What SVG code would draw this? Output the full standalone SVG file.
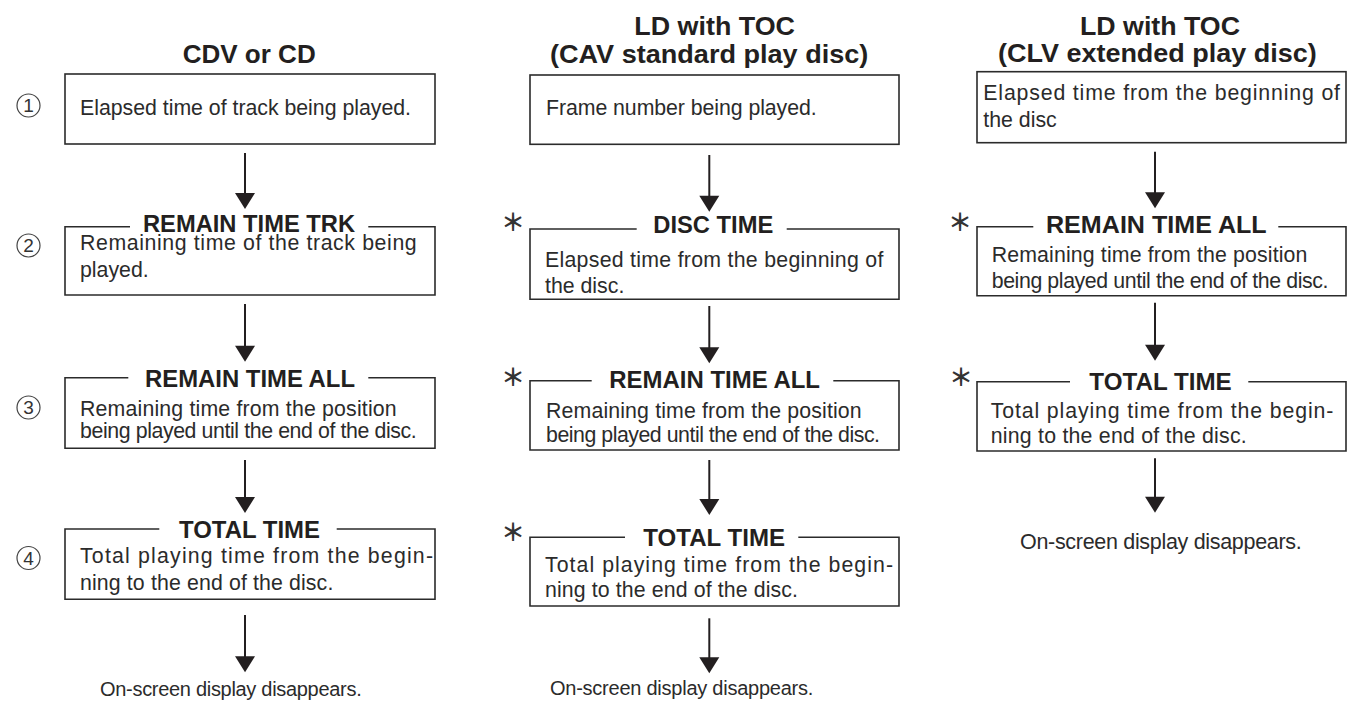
<svg xmlns="http://www.w3.org/2000/svg" width="1351" height="710" viewBox="0 0 1351 710">
<style>
.hd{font-family:"Liberation Sans",Arial,sans-serif;font-weight:bold;font-size:25px;fill:#231f20}
.tt{font-family:"Liberation Sans",Arial,sans-serif;font-weight:bold;font-size:23.5px;fill:#231f20}
.bd{font-family:"Liberation Sans",Arial,sans-serif;font-size:21.3px;fill:#2b2b2b}
.ft{font-family:"Liberation Sans",Arial,sans-serif;font-size:20px;fill:#2b2b2b}
.bx{fill:none;stroke:#2b2b2b;stroke-width:1.6}
.ar{stroke:#231f20;stroke-width:2;fill:none;marker-end:url(#ah)}
.cn{fill:none;stroke:#444;stroke-width:1.2}
.cd{font-family:"Liberation Sans",Arial,sans-serif;font-size:19px;fill:#333;text-anchor:middle}
.as{font-family:"Noto Sans CJK JP","DejaVu Sans",sans-serif;font-size:24px;font-weight:bold;fill:#333;text-anchor:middle}
</style>
<defs>
<marker id="ah" markerUnits="userSpaceOnUse" markerWidth="16" markerHeight="20" refX="6" refY="10" orient="auto" overflow="visible">
<path d="M0,0 L16,10 L0,20 Z" fill="#231f20"/>
</marker>
</defs>
<rect width="1351" height="710" fill="#fff"/>

<g id="headers">
<text class="hd" x="182.7" y="63" textLength="133" lengthAdjust="spacingAndGlyphs">CDV or CD</text>
<text class="hd" x="634.3" y="35" textLength="160.7" lengthAdjust="spacingAndGlyphs">LD with TOC</text>
<text class="hd" x="550" y="62.7" textLength="318.3" lengthAdjust="spacingAndGlyphs">(CAV standard play disc)</text>
<text class="hd" x="1080" y="35" textLength="160" lengthAdjust="spacingAndGlyphs">LD with TOC</text>
<text class="hd" x="998" y="62" textLength="318.7" lengthAdjust="spacingAndGlyphs">(CLV extended play disc)</text>
</g>

<g id="step-numbers">
<circle class="cn" cx="28.5" cy="105.5" r="11.5"/><text class="cd" x="28.5" y="112.3">1</text>
<circle class="cn" cx="28.5" cy="245.5" r="11.5"/><text class="cd" x="28.5" y="252.3">2</text>
<circle class="cn" cx="28.5" cy="407.5" r="11.5"/><text class="cd" x="28.5" y="414.3">3</text>
<circle class="cn" cx="28.5" cy="558" r="11.5"/><text class="cd" x="28.5" y="564.8">4</text>
</g>

<g id="asterisks">
<text class="as" x="513" y="230.5">＊</text>
<text class="as" x="513" y="385.5">＊</text>
<text class="as" x="513" y="540.5">＊</text>
<text class="as" x="960" y="230.5">＊</text>
<text class="as" x="961" y="385.5">＊</text>
</g>

<!-- Column 1 -->
<g id="c1-n1">
<rect class="bx" x="65" y="74" width="370" height="70"/>
<text class="bd" x="80" y="115" textLength="331">Elapsed time of track being played.</text>
</g>
<g id="c1-n2">
<path class="bx" d="M130,226.7 H65 V295 H435 V226.7 H368.3"/>
<text class="tt" x="143" y="231.5" textLength="212" lengthAdjust="spacingAndGlyphs">REMAIN TIME TRK</text>
<text class="bd" x="80" y="249.5" textLength="336.7">Remaining time of the track being</text>
<text class="bd" x="80" y="276.7">played.</text>
</g>
<g id="c1-n3">
<path class="bx" d="M128.3,377.7 H65 V448.3 H435 V377.7 H368.3"/>
<text class="tt" x="145" y="387" textLength="210" lengthAdjust="spacingAndGlyphs">REMAIN TIME ALL</text>
<text class="bd" x="80" y="415.7" textLength="316.7">Remaining time from the position</text>
<text class="bd" x="80" y="438.3" textLength="336.7">being played until the end of the disc.</text>
</g>
<g id="c1-n4">
<path class="bx" d="M159.3,529 H65 V599.3 H435 V529 H336.7"/>
<text class="tt" x="179" y="538" textLength="141" lengthAdjust="spacingAndGlyphs">TOTAL TIME</text>
<text class="bd" x="80" y="563" textLength="353">Total playing time from the begin-</text>
<text class="bd" x="80" y="590" textLength="253.3">ning to the end of the disc.</text>
</g>
<g id="c1-end">
<text class="ft" x="100" y="696" textLength="261.7">On-screen display disappears.</text>
</g>

<!-- Column 2 -->
<g id="c2-n1">
<rect class="bx" x="530" y="75" width="369" height="69.3"/>
<text class="bd" x="546" y="115" textLength="270.7">Frame number being played.</text>
</g>
<g id="c2-n2">
<path class="bx" d="M636.7,229 H530 V299.3 H899 V229 H786.7"/>
<text class="tt" x="653.3" y="233" textLength="120" lengthAdjust="spacingAndGlyphs">DISC TIME</text>
<text class="bd" x="545" y="266.7" textLength="338.3">Elapsed time from the beginning of</text>
<text class="bd" x="545" y="293.3">the disc.</text>
</g>
<g id="c2-n3">
<path class="bx" d="M591.7,380.7 H530 V450 H899 V380.7 H833.3"/>
<text class="tt" x="609.3" y="388.3" textLength="210.7" lengthAdjust="spacingAndGlyphs">REMAIN TIME ALL</text>
<text class="bd" x="546" y="418.3" textLength="315.7">Remaining time from the position</text>
<text class="bd" x="546" y="441.7" textLength="334">being played until the end of the disc.</text>
</g>
<g id="c2-n4">
<path class="bx" d="M625,537.3 H530 V606 H899 V537.3 H798.3"/>
<text class="tt" x="643.3" y="546" textLength="141.7" lengthAdjust="spacingAndGlyphs">TOTAL TIME</text>
<text class="bd" x="545" y="571.7" textLength="348">Total playing time from the begin-</text>
<text class="bd" x="545" y="597.3" textLength="253">ning to the end of the disc.</text>
</g>
<g id="c2-end">
<text class="ft" x="550" y="695" textLength="263.3">On-screen display disappears.</text>
</g>

<!-- Column 3 -->
<g id="c3-n1">
<rect class="bx" x="977" y="71.7" width="369" height="71"/>
<text class="bd" x="983.3" y="100" textLength="356.7">Elapsed time from the beginning of</text>
<text class="bd" x="983.3" y="126.7">the disc</text>
</g>
<g id="c3-n2">
<path class="bx" d="M1033.3,226.7 H977 V295.7 H1346 V226.7 H1278.3"/>
<text class="tt" x="1046" y="233" textLength="220.7" lengthAdjust="spacingAndGlyphs">REMAIN TIME ALL</text>
<text class="bd" x="991.7" y="261.7" textLength="315.7">Remaining time from the position</text>
<text class="bd" x="991.7" y="288.3" textLength="336.7">being played until the end of the disc.</text>
</g>
<g id="c3-n3">
<path class="bx" d="M1070,381.7 H977 V451 H1346 V381.7 H1248.3"/>
<text class="tt" x="1089.3" y="390" textLength="142.4" lengthAdjust="spacingAndGlyphs">TOTAL TIME</text>
<text class="bd" x="990.7" y="418.3" textLength="342.7">Total playing time from the begin-</text>
<text class="bd" x="990.7" y="443.3" textLength="256">ning to the end of the disc.</text>
</g>
<g id="c3-end">
<text class="ft" style="font-size:21.5px" x="1020" y="549.3" textLength="281.7">On-screen display disappears.</text>
</g>

<g id="connectors">
<line class="ar" x1="245" y1="153" x2="245" y2="199"/>
<line class="ar" x1="245" y1="304" x2="245" y2="351.7"/>
<line class="ar" x1="245" y1="460" x2="245" y2="503"/>
<line class="ar" x1="245" y1="615" x2="245" y2="662.3"/>
<line class="ar" x1="709.3" y1="155" x2="709.3" y2="201.7"/>
<line class="ar" x1="709.3" y1="306" x2="709.3" y2="353.3"/>
<line class="ar" x1="709.3" y1="460" x2="709.3" y2="505"/>
<line class="ar" x1="709.3" y1="618.3" x2="709.3" y2="663.3"/>
<line class="ar" x1="1155" y1="151.7" x2="1155" y2="198.3"/>
<line class="ar" x1="1155" y1="302.7" x2="1155" y2="350.7"/>
<line class="ar" x1="1155" y1="458.3" x2="1155" y2="502.7"/>
</g>
</svg>
